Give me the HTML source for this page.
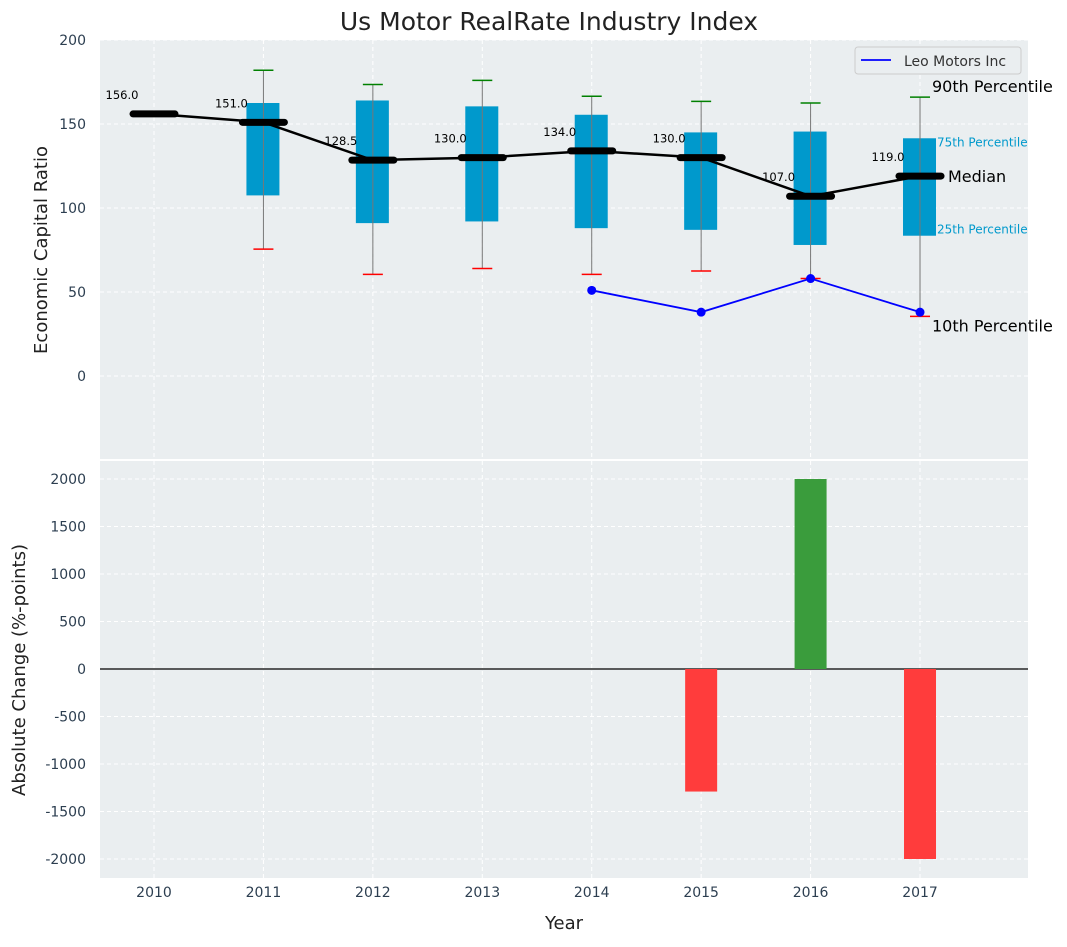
<!DOCTYPE html>
<html><head><meta charset="utf-8"><style>
body{margin:0;background:#fff;font-family:"Liberation Sans","DejaVu Sans",sans-serif}
svg text{font-family:"DejaVu Sans","Liberation Sans",sans-serif}
</style></head><body>
<svg id="c" width="1067" height="942" xmlns="http://www.w3.org/2000/svg"></svg>
<script>
const years=[2010,2011,2012,2013,2014,2015,2016,2017];
const medians=[156,151,128.5,130,134,130,107,119];
const p25=[null,107.5,91,92,88,87,78,83.5];
const p75=[null,162.5,164,160.5,155.5,145,145.5,141.5];
const p10=[null,75.5,60.5,64,60.5,62.5,58,35.5];
const p90=[null,182,173.5,176,166.5,163.5,162.5,166];
const leoYears=[2014,2015,2016,2017];
const leoVals=[51,38,58,38];
const chgYears=[2015,2016,2017];
const chgVals=[-1290,2000,-2000];
const topTicks=[0,50,100,150,200];
const botTicks=[-2000,-1500,-1000,-500,0,500,1000,1500,2000];

const NS="http://www.w3.org/2000/svg";
const svg=document.getElementById('c');
function el(t,a,p){const e=document.createElementNS(NS,t);for(const k in a)e.setAttribute(k,a[k]);(p||svg).appendChild(e);return e;}
function tx(s,a,p){const e=el('text',a,p);e.textContent=s;return e;}
const L=100,R=1028;
const x=v=>154+(v-2010)*109.43;
const yT=v=>376-v*1.68;
const yB=v=>669-v*0.095;

let bg1=el('rect',{x:L,y:40,width:R-L,height:419,fill:'#eaeef0'});

let bg2=el('rect',{x:L,y:461,width:R-L,height:417,fill:'#eaeef0'});


years.forEach(v=>{
  el('line',{x1:x(v),x2:x(v),y1:40,y2:459,stroke:'#fff','stroke-dasharray':'4,3','stroke-width':1});
  el('line',{x1:x(v),x2:x(v),y1:461,y2:878,stroke:'#fff','stroke-dasharray':'4,3','stroke-width':1});
  let t=tx(v,{x:x(v),y:897,'font-size':14,fill:'#2c3e50','text-anchor':'middle'});
  
});
topTicks.forEach(v=>{
  el('line',{x1:L,x2:R,y1:yT(v),y2:yT(v),stroke:'#fff','stroke-dasharray':'4,3'});
  let t=tx(v,{x:86,y:yT(v)+5,'font-size':14,fill:'#2c3e50','text-anchor':'end'});
  
});
botTicks.forEach(v=>{
  el('line',{x1:L,x2:R,y1:yB(v),y2:yB(v),stroke:'#fff','stroke-dasharray':'4,3'});
  let t=tx(v,{x:86,y:yB(v)+5,'font-size':14,fill:'#2c3e50','text-anchor':'end'});
  
});

years.forEach((v,i)=>{
  if(p25[i]==null)return;
  const g=el('g',{});
  
  el('rect',{x:x(v)-17,y:yT(p75[i]),width:33,height:yT(p25[i])-yT(p75[i]),fill:'#0099cc'},g);
  el('line',{x1:x(v),x2:x(v),y1:yT(p90[i]),y2:yT(p10[i]),stroke:'#777','stroke-width':1},g);
  el('line',{x1:x(v)-10,x2:x(v)+10,y1:yT(p90[i]),y2:yT(p90[i]),stroke:'green','stroke-width':1.5},g);
  el('line',{x1:x(v)-10,x2:x(v)+10,y1:yT(p10[i]),y2:yT(p10[i]),stroke:'red','stroke-width':1.5},g);
});
let mp=el('polyline',{points:years.map((v,i)=>x(v)+','+yT(medians[i])).join(' '),fill:'none',stroke:'#000','stroke-width':2.5});

years.forEach((v,i)=>{
  let m=el('line',{x1:x(v)-21,x2:x(v)+21,y1:yT(medians[i]),y2:yT(medians[i]),stroke:'#000','stroke-width':7,'stroke-linecap':'round'});
  
  let t=tx(medians[i].toFixed(1),{x:x(v)-32,y:yT(medians[i])-15,'font-size':11.5,fill:'#000','text-anchor':'middle'});
  
});
let lp=el('polyline',{points:leoYears.map((v,i)=>x(v)+','+yT(leoVals[i])).join(' '),fill:'none',stroke:'blue','stroke-width':1.8});

leoYears.forEach((v,i)=>{let c=el('circle',{cx:x(v),cy:yT(leoVals[i]),r:4.5,fill:'blue'});
});

const lx=x(2017);
[['90th Percentile',lx+12,yT(p90[7])-5,16,'#000'],['75th Percentile',lx+17,yT(p75[7])+8,12,'#0099cc'],['Median',lx+28,yT(medians[7])+6,16,'#000'],['25th Percentile',lx+17,yT(p25[7])-2,12,'#0099cc'],['10th Percentile',lx+12,yT(p10[7])+15,16,'#000']].forEach(a=>{
  let t=tx(a[0],{x:a[1],y:a[2],'font-size':a[3],fill:a[4]});
  
});

const lg=el('g',{});
el('rect',{x:855,y:47,width:166,height:27,rx:3,fill:'#eaeef0',stroke:'#ccc'},lg);
el('line',{x1:861,x2:891,y1:60,y2:60,stroke:'blue','stroke-width':1.8},lg);
tx('Leo Motors Inc',{x:904,y:66,'font-size':14,fill:'#333'},lg);

el('line',{x1:L,x2:R,y1:yB(0),y2:yB(0),stroke:'#000','stroke-width':1.2});
chgYears.forEach((v,i)=>{
  const val=chgVals[i];
  let b=el('rect',{x:x(v)-16,y:Math.min(yB(val),yB(0)),width:32,height:Math.abs(yB(val)-yB(0)),fill:val>=0?'#3a9c3c':'#ff3c3c'});
  
});

let tt=tx('Us Motor RealRate Industry Index',{x:549,y:30,'font-size':25,fill:'#222','text-anchor':'middle'});

let yt=tx('Economic Capital Ratio',{x:47,y:250,'font-size':18,fill:'#222','text-anchor':'middle',transform:'rotate(-90 47 250)'});

let yb=tx('Absolute Change (%-points)',{x:25,y:670,'font-size':18,fill:'#222','text-anchor':'middle',transform:'rotate(-90 25 670)'});

let xt=tx('Year',{x:564,y:929,'font-size':18,fill:'#222','text-anchor':'middle'});

</script>
</body></html>
